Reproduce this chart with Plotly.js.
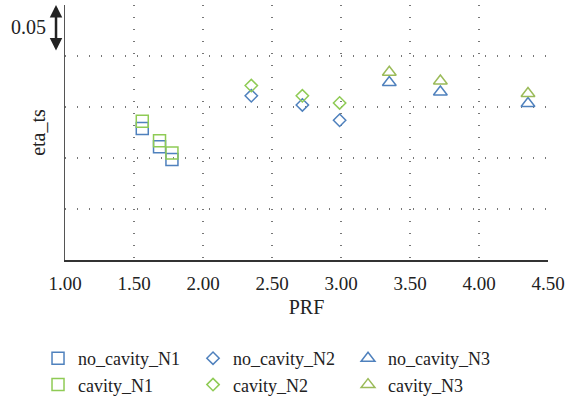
<!DOCTYPE html>
<html>
<head>
<meta charset="utf-8">
<script src="https://cdn.plot.ly/plotly-3.0.1.min.js"></script>
<style>html,body{margin:0;padding:0;background:#fff;}#chart{width:570px;height:398px;}</style>
</head>
<body>
<div id="chart"></div>
<script>
// PRF values (x)
const prfN1 = [1.56, 1.685, 1.775];
const prfN2 = [2.35, 2.72, 2.99];
const prfN3 = [3.35, 3.72, 4.355];
// eta_ts values (y), absolute offset unknown; scale 0.05 per grid step
const noCavityN1 = [0.129, 0.111, 0.0985];
const cavityN1   = [0.136, 0.117, 0.105];
const noCavityN2 = [0.161, 0.152, 0.137];
const cavityN2   = [0.171, 0.161, 0.154];
const noCavityN3 = [0.174, 0.1647, 0.1534];
const cavityN3   = [0.1841, 0.1755, 0.1632];
const xTickVals = [1.0, 1.5, 2.0, 2.5, 3.0, 3.5, 4.0, 4.5];
const xTickText = ["1.00", "1.50", "2.00", "2.50", "3.00", "3.50", "4.00", "4.50"];
const scaleLabel = "0.05";

const BLUE = "#4F81BD", GREEN = "#8FCB55", OLIVE = "#9BBB59";
const FONT = "Liberation Serif, Times New Roman, serif";

function tr(name, x, y, sym, col, size) {
  return {
    type: "scatter", mode: "markers", name: name, x: x, y: y,
    marker: {symbol: sym, size: size, color: col, line: {color: col, width: 1.5}},
    hoverinfo: "x+y"
  };
}
const data = [
  tr("no_cavity_N1", prfN1, noCavityN1, "square-open", BLUE, 12),
  tr("no_cavity_N2", prfN2, noCavityN2, "diamond-open", BLUE, 9.5),
  tr("no_cavity_N3", prfN3, noCavityN3, "triangle-up-open", BLUE, 12),
  tr("cavity_N1", prfN1, cavityN1, "square-open", GREEN, 12),
  tr("cavity_N2", prfN2, cavityN2, "diamond-open", GREEN, 9.5),
  tr("cavity_N3", prfN3, cavityN3, "triangle-up-open", OLIVE, 12)
];

const layout = {
  width: 570, height: 398,
  margin: {l: 65, r: 22, t: 5, b: 138},
  paper_bgcolor: "#fff", plot_bgcolor: "#fff",
  font: {family: FONT, size: 20, color: "#222"},
  showlegend: true,
  legend: {
    orientation: "h", xref: "container", x: 0.0667, xanchor: "left",
    yref: "container", y: 0.1457, yanchor: "top",
    entrywidth: 110, entrywidthmode: "pixels", traceorder: "normal",
    font: {family: FONT, size: 18, color: "#222"}, itemclick: false
  },
  xaxis: {
    range: [1, 4.5], tickvals: xTickVals, ticktext: xTickText,
    showline: true, linecolor: "#333", linewidth: 1.5,
    showgrid: true, gridcolor: "#777", gridwidth: 1.2, griddash: "1.2px,10.8px",
    zeroline: false, ticks: "outside", ticklen: 6, tickcolor: "rgba(0,0,0,0)",
    tickfont: {family: FONT, size: 19, color: "#222"},
    title: {text: "PRF", font: {family: FONT, size: 20, color: "#222"}, standoff: 6}
  },
  yaxis: {
    range: [0, 0.25], dtick: 0.05, tick0: 0,
    showline: true, linecolor: "#555", linewidth: 1.5,
    showgrid: true, gridcolor: "#777", gridwidth: 1.2, griddash: "1.2px,10.8px",
    zeroline: false, showticklabels: false, ticks: "",
    title: {text: "eta_ts", font: {family: FONT, size: 20, color: "#222"}, standoff: 12}
  },
  annotations: [
    {xref: "paper", yref: "y", x: -0.0186, y: 0.25, ax: 0, ay: 47, axref: "pixel", ayref: "pixel",
     text: "", showarrow: true, arrowside: "end+start", arrowhead: 2, startarrowhead: 2,
     arrowsize: 1, startarrowsize: 1, arrowwidth: 2.5, arrowcolor: "#222", standoff: 0, startstandoff: 0},
    {xref: "paper", yref: "y", x: -0.0766, y: 0.2284, text: scaleLabel, showarrow: false,
     xanchor: "center", yanchor: "middle", font: {family: FONT, size: 20, color: "#222"}}
  ]
};

Plotly.newPlot("chart", data, layout, {displayModeBar: false, staticPlot: true});
</script>
</body>
</html>
